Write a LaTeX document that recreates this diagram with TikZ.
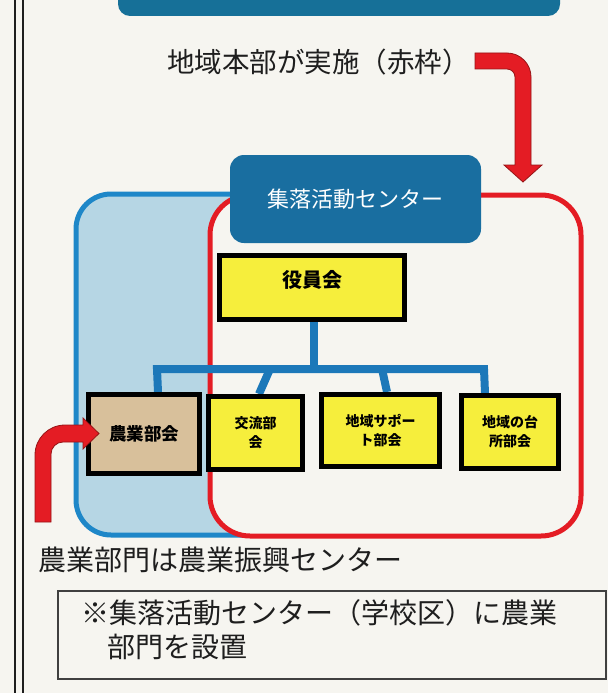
\documentclass[tikz,border=0pt]{standalone}
\usepackage{fontspec}
\newfontfamily\cjk{Noto Sans CJK JP}
\definecolor{paper}{RGB}{246,245,240}
\definecolor{bannerblue}{RGB}{22,112,152}
\definecolor{labelblue}{RGB}{25,110,160}
\definecolor{frameblue}{RGB}{30,135,200}
\definecolor{lightblue}{RGB}{182,214,228}
\definecolor{redc}{RGB}{228,28,36}
\definecolor{darkredc}{RGB}{150,20,22}
\definecolor{yellowc}{RGB}{246,238,60}
\definecolor{tanc}{RGB}{216,192,155}
\definecolor{treeblue}{RGB}{28,120,185}
\definecolor{inkc}{RGB}{30,30,30}
\pgfdeclarelayer{back}
\pgfdeclarelayer{mid}
\pgfsetlayers{back,mid,main}
\begin{document}
\begin{tikzpicture}[x=1pt,y=-1pt,
  caption/.style={font=\cjk\fontsize{28}{34}\selectfont, text=inkc, inner sep=0pt, anchor=west},
  unitbox/.style={draw=black, line width=5pt, fill=yellowc, inner sep=0pt, align=center,
                  font=\cjk\bfseries\fontsize{14}{19}\selectfont},
  boxtext/.style={font=\cjk\bfseries\fontsize{20}{24}\selectfont, inner sep=0pt},
  labelbox/.style={fill=labelblue, rounded corners=14pt, inner sep=0pt, text=white,
                   font=\cjk\fontsize{22}{26}\selectfont},
  tree/.style={draw=treeblue, line width=8pt, line join=miter},
  fatarrow/.style={fill=redc, draw=darkredc, line width=0.8pt, line join=miter},
  noteframe/.style={draw=inkc!85, line width=1.5pt}
]
\useasboundingbox (0,0) rectangle (608,693);
\begin{pgfonlayer}{back}
\fill[paper] (0,0) rectangle (608,693);
% left double rule
\draw[inkc, line width=1.2pt] (15,0) -- (15,693);
\draw[inkc, line width=1.2pt] (23,0) -- (23,693);
% top banner (cut off)
\fill[bannerblue, rounded corners=12pt] (118,-30) rectangle (560,16);
% frames
\draw[frameblue, line width=5pt, fill=lightblue, rounded corners=35pt] (76,194) rectangle (400,535);
\draw[redc, line width=5pt, fill=paper, rounded corners=40pt] (210,195) rectangle (581,536);
\end{pgfonlayer}

% caption top
\node[caption, font=\cjk\fontsize{27.5}{34}\selectfont] (jisshi) at (167,62) {地域本部が実施（赤枠）};

% right red arrow
\path[fatarrow] (475,53) -- (507,53) .. controls (520.25,53) and (531,63.75) .. (531,77)
  -- (531,165) -- (542,165) -- (523,182) -- (504,165) -- (515,165) -- (515,77)
  .. controls (515,72.6) and (511.4,69) .. (507,69) -- (475,69) -- cycle;

% label box
\node[labelbox, minimum width=251pt, minimum height=88pt] (center) at (355.5,199) {集落活動センター};

% tree junctions
\coordinate (busL) at (157,369);
\coordinate (busR) at (484,369);
\coordinate (j2) at (270,369);
\coordinate (j3) at (382,369);

% boxes
\node[unitbox, minimum width=185pt, minimum height=64pt] (yakuin) at (312,287.5) {};
\node[unitbox, fill=tanc, minimum width=111pt, minimum height=79pt, font=\cjk\bfseries\fontsize{17.5}{20}\selectfont] (nogyo) at (144,434) {農業部会};
\node[unitbox, minimum width=94pt, minimum height=73pt] (kouryu) at (255.5,433) {交流部\\会};
\node[unitbox, minimum width=118pt, minimum height=72pt] (support) at (380.5,430.5) {地域サポー\\ト部会};
\node[unitbox, minimum width=97pt, minimum height=73pt] (daidokoro) at (510,432) {地域の台\\所部会};
\node[boxtext] (yakuintext) at (312,280) {役員会};

\begin{pgfonlayer}{mid}
\draw[tree] ([xshift=2pt]yakuin.south) -- ([xshift=2pt]yakuin.south |- busL);
\draw[tree] ([xshift=14pt]nogyo.north) -- (busL) -- (busR) -- ([xshift=-25pt]daidokoro.north);
\draw[tree] (j2) -- ([xshift=3.5pt]kouryu.north);
\draw[tree] (j3) -- ([xshift=6.5pt]support.north);
\end{pgfonlayer}

% left red arrow
\path[fatarrow] (35,522) -- (35,455) .. controls (35,438.4) and (48.4,425) .. (65,425)
  -- (83,425) -- (83,418) -- (99,433.5) -- (83,449) -- (83,442) -- (63,442)
  .. controls (56.4,442) and (51,447.4) .. (51,454) -- (51,522) -- cycle;

% bottom caption
\node[caption] (bumon) at (38,560) {農業部門は農業振興センター};

% note box
\draw[noteframe] (58,591) rectangle (606,679);
\node[caption] (note1) at (81,613) {※集落活動センター（学校区）に農業};
\node[caption] (note2) at (107,647) {部門を設置};
\end{tikzpicture}
\end{document}
